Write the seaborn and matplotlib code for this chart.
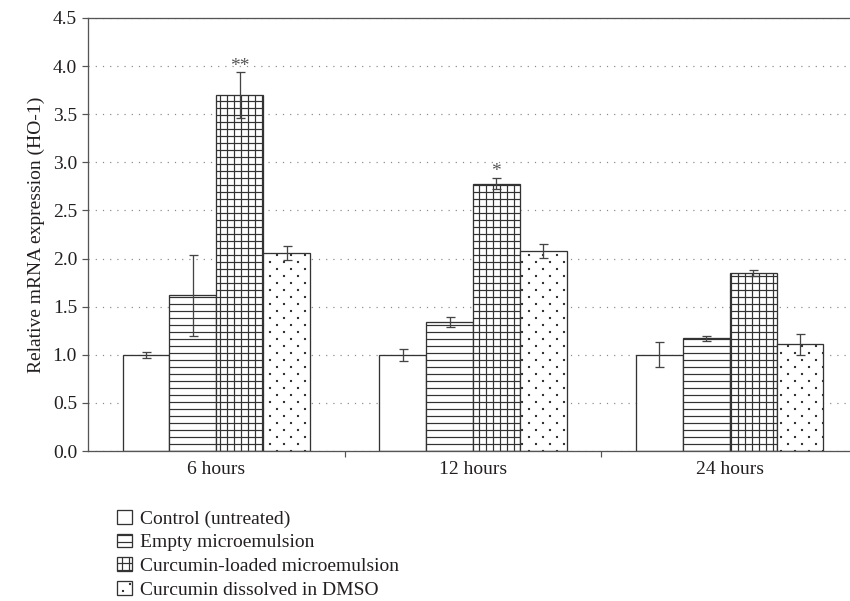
import numpy as np
import pandas as pd
import matplotlib
matplotlib.use("Agg")
import matplotlib.pyplot as plt
import matplotlib.hatch as mhatch
from matplotlib.path import Path
from matplotlib.ticker import FormatStrFormatter
import seaborn as sns

# Time points and treatments
times = ["6 hours", "12 hours", "24 hours"]
treatments = [
    "Control (untreated)",
    "Empty microemulsion",
    "Curcumin-loaded microemulsion",
    "Curcumin dissolved in DMSO",
]

# Mean relative HO-1 mRNA expression per treatment (one value per time point)
control = [1.00, 1.00, 1.00]
empty = [1.62, 1.34, 1.17]
loaded = [3.70, 2.78, 1.85]
dmso = [2.06, 2.08, 1.11]

# Error bar half-widths
control_err = [0.03, 0.065, 0.13]
empty_err = [0.42, 0.05, 0.025]
loaded_err = [0.235, 0.06, 0.035]
dmso_err = [0.07, 0.07, 0.11]

# Significance marks over the curcumin-loaded microemulsion bars
loaded_marks = ["**", "*", ""]

means = [control, empty, loaded, dmso]
errors = [control_err, empty_err, loaded_err, dmso_err]
hatches = [None, "--", "++", "."]

DPI = 84


def px(v):
    """Convert pixels to points at the figure dpi."""
    return v * 72.0 / DPI


class StaggeredDots(mhatch.HatchPatternBase):
    """Small square dots: 12 rows per hatch tile, 6 dots per row,
    every other row shifted by half a column.  Dots sit on whole pixels
    of the DPI-sized hatch tile so they render crisp."""
    rows = 12
    cols = 6

    def __init__(self, hatch, density):
        self.num_dots = self.rows * self.cols if "." in hatch else 0
        self.num_vertices = self.num_dots * 5

    def set_vertices_and_codes(self, vertices, codes):
        tile = float(DPI)
        step = tile / self.rows
        h = 0.45 / tile
        square = np.array([[-h, -h], [h, -h], [h, h], [-h, h], [-h, -h]])
        k = 0
        for r in range(self.rows):
            y = (4 + r * step) / tile
            shift = step if r % 2 else 0.0
            for c in range(self.cols):
                x = (4 + c * 2 * step + shift) / tile
                vertices[k:k + 5] = square + (x, y)
                codes[k] = Path.MOVETO
                codes[k + 1:k + 4] = Path.LINETO
                codes[k + 4] = Path.CLOSEPOLY
                k += 5


# '.' hatches use the staggered square dots instead of small filled circles
mhatch._hatch_types[mhatch._hatch_types.index(mhatch.SmallFilledCircles)] = StaggeredDots

INK = "#231f20"
EDGE = "#333333"
SPINE = "#555555"
FS = px(19.5)

sns.set_theme(style="white")
plt.rcParams["font.family"] = ["Liberation Serif", "DejaVu Serif"]
plt.rcParams["hatch.linewidth"] = px(1.2)
plt.rcParams["text.color"] = INK

rows = []
for tr, vals in zip(treatments, means):
    for t, v in zip(times, vals):
        rows.append({"time": t, "treatment": tr, "value": v})
df = pd.DataFrame(rows)

fig = plt.figure(figsize=(850 / DPI, 601 / DPI), dpi=DPI)
ax = fig.add_axes([88 / 850, 150 / 601, 770 / 850, 433 / 601])

sns.barplot(
    data=df, x="time", y="value", hue="treatment",
    order=times, hue_order=treatments,
    palette=["white"] * 4, edgecolor=EDGE, linewidth=px(1.3),
    width=0.73, gap=0, errorbar=None, legend=False, ax=ax,
)

for container, hatch, errs in zip(ax.containers, hatches, errors):
    xs, ys = [], []
    for bar in container:
        if hatch:
            bar.set_hatch(hatch)
        xs.append(bar.get_x() + bar.get_width() / 2)
        ys.append(bar.get_height())
    ax.errorbar(xs, ys, yerr=errs, fmt="none", ecolor="#444444",
                elinewidth=px(1.3), capsize=px(4.5), capthick=px(1.3), zorder=4)

# Significance asterisks
for bar, err, mark in zip(ax.containers[2], loaded_err, loaded_marks):
    if mark:
        ax.text(bar.get_x() + bar.get_width() / 2, bar.get_height() + err - 0.025,
                mark, ha="center", va="bottom", fontsize=FS, color="#555555")

ax.set_xlim(-0.5, 2.5)
ax.set_ylim(0, 4.5)
ax.set_yticks(np.arange(0, 4.51, 0.5))
ax.yaxis.set_major_formatter(FormatStrFormatter("%.1f"))
ax.set_xticks([0.5, 1.5], minor=True)

ax.grid(axis="y", linestyle=(0, (1, 5)), color="#8a8a8a", linewidth=px(1.2))
ax.set_axisbelow(True)

for side in ["left", "bottom", "top"]:
    ax.spines[side].set_color(SPINE)
    ax.spines[side].set_linewidth(px(1.3))
ax.spines["right"].set_visible(False)

ax.tick_params(axis="y", which="major", direction="out", length=px(6), width=px(1.2),
               color=SPINE, labelsize=FS, labelcolor=INK, pad=px(5), left=True)
ax.tick_params(axis="x", which="major", length=0, labelsize=FS, labelcolor=INK, pad=px(10))
ax.tick_params(axis="x", which="minor", direction="out", length=px(6), width=px(1.2),
               color=SPINE, bottom=True)

ax.set_xlabel("")
ax.set_ylabel("Relative mRNA expression (HO-1)", fontsize=FS, color=INK, labelpad=px(8))

ax.legend(
    handles=list(ax.containers), labels=treatments,
    loc="upper left", bbox_to_anchor=(117 / 850, 1 - 510 / 601),
    bbox_transform=fig.transFigure, frameon=False, fontsize=FS,
    handlelength=0.75, handleheight=0.7, handletextpad=0.45,
    labelspacing=0.31, borderpad=0, borderaxespad=0,
)

fig.savefig("out.png", dpi=DPI)
